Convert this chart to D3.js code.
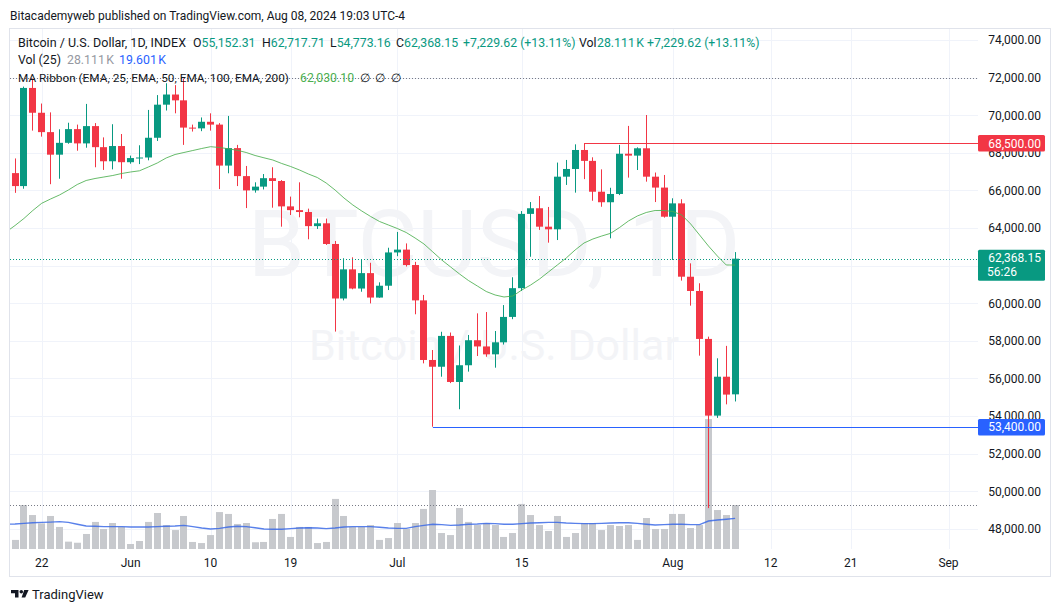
<!DOCTYPE html>
<html><head><meta charset="utf-8">
<script src="https://cdn.jsdelivr.net/npm/d3@7"></script>
<style>
html,body{margin:0;padding:0;background:#fff;}
svg{display:block;font-family:Roboto,"Noto Sans",sans-serif;}
</style></head><body>
<svg id="c" width="1060" height="612"></svg>
<script>
// ---------- DATA ----------
const firstDay = "2024-05-18";
const lastDay = "2024-08-08";
const opens = [67050,66920,66230,71450,70130,69100,67900,68530,69260,68500,69420,68300,67550,68360,67500,67720,67750,68800,70560,71100,70790,69340,69300,69650,69500,67320,68250,66760,66000,66200,66650,66500,65150,64950,64850,64100,64250,63150,60250,61800,60780,61600,60300,60930,62700,62850,62030,60150,56980,56620,58260,55810,56700,58030,57700,57280,57920,59270,60800,64750,65050,64070,63930,66730,67140,68150,67570,65930,65370,65810,67950,67850,68240,66730,66150,64600,65310,61410,60650,58100,54020,56090,55152.31];
const highs = [67400,67700,71520,71950,70620,70150,69250,69600,69500,70600,69580,68820,69520,69000,67850,68400,70280,71070,71700,71600,71950,69500,69880,70100,69580,69960,68420,67300,66430,66870,67230,66550,65670,66430,65030,64500,64500,63310,62390,62440,62330,62150,61110,62950,63790,63180,62200,60440,57510,58480,58440,57750,58310,59460,59530,58520,59900,61380,64900,65380,65700,65120,67480,67620,68450,68500,67760,67120,66140,68420,69430,68290,70010,66950,66820,65580,65530,62120,61060,58220,57070,57730,62717.71];
const lows = [66600,65870,66090,69180,68860,66330,66620,68480,68110,68270,67230,67090,67120,66620,67420,67400,67600,68630,70250,70100,68420,69130,69150,69180,66070,66910,66230,65060,65880,66050,65080,64070,64690,64570,63400,63950,63100,58490,60150,60740,60610,59990,60290,60700,62500,61950,59410,56800,53430,56090,55750,54360,56360,57190,57150,56570,57800,59150,60650,62470,63900,63220,63360,66290,65880,66600,65450,65130,63450,65750,66680,67085,66465,65380,64550,62300,61200,59870,57210,49100,53900,54620,54773.16];
const closes = [66920,66230,71450,70130,69100,67900,68530,69260,68500,69420,68300,67550,68360,67500,67720,67750,68800,70560,71100,70790,69340,69300,69650,69500,67320,68250,66760,66000,66200,66650,66500,65150,64950,64850,64100,64250,63150,60250,61800,60780,61600,60300,60930,62700,62850,62030,60150,56980,56620,58260,55810,56700,58030,57700,57280,57920,59270,60800,64750,65050,64070,63930,66730,67140,68150,67570,65930,65370,65810,67950,67850,68240,66730,66150,64600,65310,61410,60650,58100,54020,56090,55138.53,62368.15];
// volume in thousands
const volumes = [6.0,5.8,28.1,21.7,16.4,21.1,14.1,4.7,4.0,9.6,17.3,12.8,16.6,14.1,3.2,5.1,17.3,23.0,15.3,12.1,21.1,4.5,3.8,8.9,23.6,22.4,16.0,16.6,4.3,4.5,19.2,22.4,7.7,14.1,14.1,3.8,4.5,32.0,21.1,14.1,14.1,15.3,5.8,7.0,16.6,12.8,16.6,25.6,37.7,10.2,8.9,26.2,17.3,15.3,16.6,15.3,7.7,10.2,28.8,21.7,15.3,11.5,21.1,7.7,10.2,16.6,16.6,12.1,15.3,14.7,15.3,5.8,19.8,12.8,12.8,22.4,22.4,13.4,15.3,83.0,24.9,21.7,28.111];
const volumeMA = [15.8,16.0,16.4,16.8,17.0,17.2,17.5,17.0,15.8,14.7,14.5,14.3,14.3,14.3,14.1,14.1,14.1,14.3,14.5,14.7,15.1,14.3,13.4,12.8,13.2,14.1,14.5,14.3,13.6,12.8,12.6,12.6,13.0,13.4,13.6,13.4,13.0,13.4,14.1,14.3,14.3,14.3,13.9,13.4,13.2,13.2,14.3,15.1,15.8,15.6,15.1,15.3,15.8,16.0,16.4,16.2,15.8,15.8,16.2,16.6,16.8,17.0,17.0,16.6,16.4,16.2,16.2,16.4,16.6,16.8,16.8,16.4,15.8,15.3,15.6,15.8,15.8,15.6,15.6,17.9,18.5,19.0,19.601];
const ema25 = [63788,64133,64506,64931,65314,65543,65756,66021,66314,66527,66633,66713,66793,66899,66979,67043,67245,67458,67724,67910,68016,68122,68229,68325,68282,68213,68133,68016,67857,67734,67617,67431,67271,67085,66873,66686,66394,66021,65596,65224,64905,64612,64346,64160,63974,63761,63468,63149,62724,62298,61926,61554,61208,60915,60623,60437,60330,60383,60702,60968,61288,61660,62032,62405,62830,63202,63415,63575,63718,64027,64373,64639,64825,64931,64931,64878,64692,64213,63628,63043,62511,62032,62030.10];
const priceTicks = [48000,50000,52000,54000,56000,58000,60000,62000,64000,66000,68000,70000,72000,74000];
const timeTickDates = ["2024-05-22","2024-06-01","2024-06-10","2024-06-19","2024-07-01","2024-07-15","2024-08-01","2024-08-12","2024-08-21","2024-09-01"];
const timeTickLabels = ["22","Jun","10","19","Jul","15","Aug","12","21","Sep"];
const resistance = {price:68500, from:"2024-07-22"};
const support = {price:53400, from:"2024-07-05"};
const dottedLevel = 72000;
const countdown = "56:26";

// ---------- LAYOUT ----------
const svg = d3.select("#c");
const W=1060,H=612;
const L=10,R=978,T=29,B=549;
const ink="#131722", up="#089981", down="#f23645", grid="#f0f3fa";
const parse = d3.utcParse("%Y-%m-%d");
const dates = d3.utcDay.range(parse(firstDay), d3.utcDay.offset(parse(lastDay),1));
const x = d3.scaleUtc().domain([parse("2024-05-22"), parse("2024-09-01")]).range([41.7, 948.5]);
const y = d3.scaleLinear().domain([48000,74000]).range([528.8,40]);
const yv = d3.scaleLinear().domain([0,100]).range([549,549-156.5]);
const fmt = d3.format(",.2f");

svg.append("rect").attr("width",W).attr("height",H).attr("fill","#fff");

// header
svg.append("text").attr("x",10).attr("y",19.5).attr("fill",ink).attr("font-size",12)
  .text("Bitacademyweb published on TradingView.com, Aug 08, 2024 19:03 UTC-4");

// frame
svg.append("rect").attr("x",9.5).attr("y",28.5).attr("width",1041).attr("height",548)
  .attr("fill","#fff").attr("stroke","#e0e3eb");

const defs = svg.append("defs");
defs.append("clipPath").attr("id","plot").append("rect").attr("x",L).attr("y",T).attr("width",R-L).attr("height",B-T);
const plot = svg.append("g").attr("clip-path","url(#plot)");

// grid
plot.append("g").selectAll("line").data(priceTicks).join("line")
  .attr("x1",L).attr("x2",R).attr("y1",d=>Math.round(y(d))+0.5).attr("y2",d=>Math.round(y(d))+0.5)
  .attr("stroke",grid);
plot.append("g").selectAll("line").data(timeTickDates).join("line")
  .attr("y1",T).attr("y2",B).attr("x1",d=>Math.round(x(parse(d)))+0.5).attr("x2",d=>Math.round(x(parse(d)))+0.5)
  .attr("stroke",grid);

// watermark
plot.append("text").attr("x",(L+R)/2).attr("y",276).attr("text-anchor","middle")
  .attr("font-size",92).attr("fill","#f3f4f7").text("BTCUSD, 1D");
plot.append("text").attr("x",(L+R)/2).attr("y",360).attr("text-anchor","middle")
  .attr("font-size",43).attr("fill","#f3f4f7").text("Bitcoin / U.S. Dollar");

const bw = 7;
const cx = i => x(dates[i]);
const left = i => Math.round(cx(i)-bw/2);
const idx = d3.range(dates.length);

// volume
plot.append("g").selectAll("rect").data(idx).join("rect")
  .attr("x",i=>left(i)).attr("width",bw)
  .attr("y",i=>yv(volumes[i])).attr("height",i=>yv(0)-yv(volumes[i]))
  .attr("fill","#c7c9cd");
plot.append("path").datum(idx)
  .attr("d",d3.line().x(i=>cx(i)).y(i=>yv(volumeMA[i])))
  .attr("fill","none").attr("stroke","#3b6ae6").attr("stroke-width",1.4).attr("opacity",0.85);

// candles
const cg = plot.append("g");
cg.selectAll("line").data(idx).join("line")
  .attr("x1",i=>left(i)+3.5).attr("x2",i=>left(i)+3.5)
  .attr("y1",i=>y(highs[i])).attr("y2",i=>y(lows[i]))
  .attr("stroke",i=>closes[i]>=opens[i]?up:down);
cg.selectAll("rect").data(idx).join("rect")
  .attr("x",i=>left(i)).attr("width",bw)
  .attr("y",i=>y(Math.max(opens[i],closes[i])))
  .attr("height",i=>Math.max(1,Math.abs(y(opens[i])-y(closes[i]))))
  .attr("fill",i=>closes[i]>=opens[i]?up:down);

// EMA
plot.append("path").datum(idx)
  .attr("d",d3.line().x(i=>cx(i)).y(i=>y(ema25[i])))
  .attr("fill","none").attr("stroke","#4caf50").attr("stroke-width",1).attr("opacity",0.85);

// horizontal lines
const lastI = dates.length-1;
plot.append("line").attr("x1",x(parse(resistance.from))).attr("x2",R)
  .attr("y1",Math.round(y(resistance.price))+0.5).attr("y2",Math.round(y(resistance.price))+0.5)
  .attr("stroke",down);
plot.append("line").attr("x1",x(parse(support.from))).attr("x2",R)
  .attr("y1",Math.round(y(support.price))+0.5).attr("y2",Math.round(y(support.price))+0.5)
  .attr("stroke","#2962ff");
plot.append("line").attr("x1",L).attr("x2",R)
  .attr("y1",Math.round(y(closes[lastI]))+0.5).attr("y2",Math.round(y(closes[lastI]))+0.5)
  .attr("stroke",up).attr("stroke-dasharray","1,2");
plot.append("line").attr("x1",L).attr("x2",R)
  .attr("y1",Math.round(y(dottedLevel))+0.5).attr("y2",Math.round(y(dottedLevel))+0.5)
  .attr("stroke","#787b86").attr("stroke-dasharray","1,2");
plot.append("line").attr("x1",L).attr("x2",R)
  .attr("y1",Math.round(yv(volumes[lastI]))+0.5).attr("y2",Math.round(yv(volumes[lastI]))+0.5)
  .attr("stroke","#787b86").attr("stroke-dasharray","1,2");

// price axis (labels fully hidden under the last-price tag are not drawn)
const tagBoxes = [];
function tagTop(price,h){ return h>20 ? y(price)-9 : y(price)-8.3; }
tagBoxes.push([tagTop(closes[lastI],31), tagTop(closes[lastI],31)+31]);
const ax = svg.append("g").attr("font-size",12).attr("fill",ink);
ax.selectAll("text").data(priceTicks.filter(d=>!tagBoxes.some(b=>y(d)-5>b[0]&&y(d)+5<b[1]))).join("text")
  .attr("x",1041).attr("y",d=>y(d)+4.3).attr("text-anchor","end").text(d=>fmt(d));
function tag(price,color,h,lines){
  const top = tagTop(price,h);
  svg.append("rect").attr("x",978).attr("y",top).attr("width",67).attr("height",h).attr("rx",1.5).attr("fill",color);
  lines.forEach((t,k)=>svg.append("text").attr("x",k===0?1041:987).attr("text-anchor",k===0?"end":"start")
    .attr("y",top+12.5+k*14).attr("font-size",12).attr("fill","#fff").text(t));
}
tag(resistance.price,down,16.5,[fmt(resistance.price)]);
tag(closes[lastI],up,31,[fmt(closes[lastI]),countdown]);
tag(support.price,"#2962ff",16.5,[fmt(support.price)]);

// time axis
svg.append("g").attr("font-size",12).attr("fill",ink).selectAll("text").data(timeTickDates).join("text")
  .attr("x",d=>x(parse(d))).attr("y",566.5).attr("text-anchor","middle").text((d,i)=>timeTickLabels[i]);

// legend
const lg = svg.append("g").attr("font-size",12.3);
function seg(xp,yp,t,c,fs){ const e=lg.append("text").attr("x",xp).attr("y",yp).attr("fill",c).text(t); if(fs) e.attr("font-size",fs); return e; }
const g1=46.5;
seg(18,g1,"Bitcoin / U.S. Dollar, 1D, INDEX",ink,12.5);
const ohlc=[["O",opens[lastI],193],["H",highs[lastI],262],["L",lows[lastI],330],["C",closes[lastI],396]];
ohlc.forEach(([k,v,xp])=>{ const t=lg.append("text").attr("x",xp).attr("y",g1);
  t.append("tspan").attr("fill",ink).text(k); t.append("tspan").attr("fill",up).text(fmt(v)); });
const chg = closes[lastI]-closes[lastI-1];
const chgTxt = "+"+fmt(chg)+" (+"+d3.format(".2f")(chg/closes[lastI-1]*100)+"%)";
seg(463,g1,chgTxt,up);
seg(579,g1,"Vol",ink);
seg(597,g1,d3.format(".3f")(volumes[lastI])+"\u202FK",up);
seg(647,g1,chgTxt,up);
const g2=64;
seg(18,g2,"Vol (25)",ink);
seg(67,g2,d3.format(".3f")(volumes[lastI])+"\u202FK","#9598a1");
seg(119,g2,d3.format(".3f")(volumeMA[lastI])+"\u202FK","#2962ff");
const g3=81.5;
seg(18,g3,"MA Ribbon (EMA, 25, EMA, 50, EMA, 100, EMA, 200)",ink,11.8);
seg(300,g3,fmt(ema25[lastI]),"#4caf50");
[360,375,391].forEach(xp=>seg(xp,g3,"\u2205",ink));

// footer
const lo = svg.append("g").attr("fill",ink);
lo.append("path").attr("d","M11,590H18.5V597.5H15V593.3H11Z");
lo.append("circle").attr("cx",21.3).attr("cy",591.8).attr("r",1.8);
lo.append("path").attr("d","M24.2,590H28.6L25.2,597.5H21.6Z");
svg.append("text").attr("x",32).attr("y",598.5).attr("font-size",13).attr("fill",ink).text("TradingView");
</script>
</body></html>
